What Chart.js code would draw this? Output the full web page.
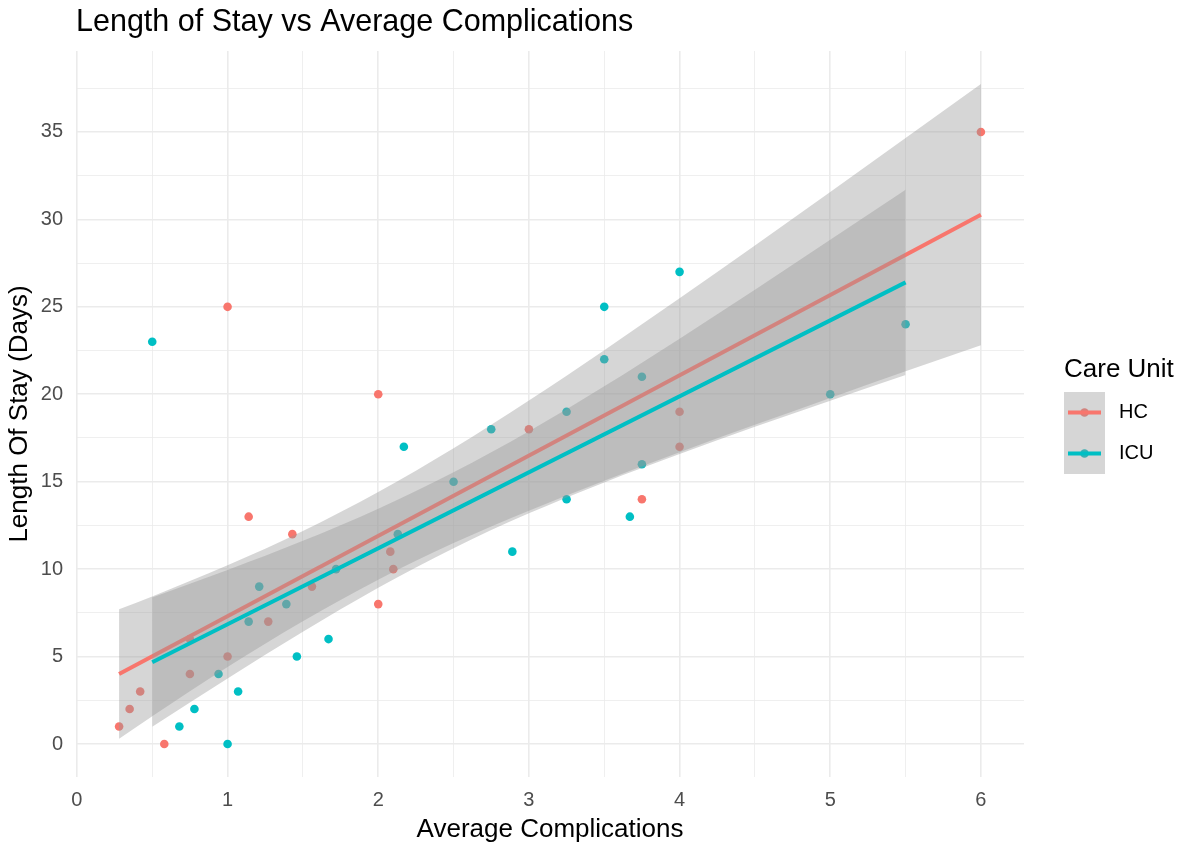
<!DOCTYPE html>
<html>
<head>
<meta charset="utf-8">
<script src="https://cdn.jsdelivr.net/npm/chart.js@4.4.1/dist/chart.umd.min.js"></script>
<style>
  html, body { margin: 0; padding: 0; background: #fff; }
  #wrap { width: 1183px; height: 845px; position: relative; }
</style>
</head>
<body>
<div id="wrap"><canvas id="myChart"></canvas></div>
<script>
const FONT = '"Liberation Sans", Arial, sans-serif';

const units = ['HC', 'ICU'];
const unitColors = ['#F8766D', '#00BFC4'];
const bandFill = 'rgba(153, 153, 153, 0.4)';

// observations
const hcX = [0.28, 0.35, 0.42, 0.58, 0.75, 0.75, 1, 1, 1.14, 1.27, 1.43, 1.56, 2, 2, 2.08, 2.1, 3, 3.75, 4, 4, 6];
const hcY = [1, 2, 3, 0, 4, 6, 5, 25, 13, 7, 12, 9, 8, 20, 11, 10, 18, 14, 17, 19, 35];
const icuX = [0.5, 0.68, 0.78, 0.94, 1, 1.07, 1.14, 1.21, 1.39, 1.46, 1.67, 1.72, 2.13, 2.17, 2.5, 2.75, 2.89, 3.25, 3.25, 3.5, 3.5, 3.67, 3.75, 3.75, 4, 5, 5.5];
const icuY = [23, 1, 2, 4, 0, 3, 7, 9, 8, 5, 6, 10, 12, 17, 15, 18, 11, 14, 19, 22, 25, 13, 16, 21, 27, 20, 24];

// fitted lines (end points)
const hcFitX = [0.28, 6];
const hcFitY = [4.0, 30.27];
const icuFitX = [0.5, 5.5];
const icuFitY = [4.68, 26.4];

// confidence bands
const hcBandX = [0.28, 0.5, 1, 1.5, 2, 2.5, 3, 3.5, 4, 4.5, 5, 5.5, 6];
const hcLow = [0.30, 1.58, 4.40, 7.02, 9.39, 11.49, 13.34, 15.06, 16.69, 18.25, 19.79, 21.31, 22.80];
const hcHigh = [7.70, 8.44, 10.22, 12.18, 14.41, 16.91, 19.64, 22.52, 25.49, 28.51, 31.57, 34.65, 37.74];
const icuBandX = [0.5, 1, 1.5, 2, 2.5, 3, 3.5, 4, 4.5, 5, 5.5];
const icuLow = [0.98, 3.75, 6.42, 8.94, 11.20, 13.19, 14.96, 16.58, 18.14, 19.63, 21.10];
const icuHigh = [8.38, 9.95, 11.62, 13.46, 15.54, 17.89, 20.46, 23.18, 25.98, 28.83, 31.70];

const xTicks = [0, 0.5, 1, 1.5, 2, 2.5, 3, 3.5, 4, 4.5, 5, 5.5, 6];
const yTicks = [0, 2.5, 5, 7.5, 10, 12.5, 15, 17.5, 20, 22.5, 25, 27.5, 30, 32.5, 35, 37.5];

const pts = (xs, ys) => xs.map((x, i) => ({ x: x, y: ys[i] }));

const pointSet = (label, xs, ys, color) => ({
    label: label,
    data: pts(xs, ys),
    backgroundColor: color,
    borderColor: 'rgba(0,0,0,0)',
    pointRadius: 4.3,
    pointBorderWidth: 0,
    pointHoverRadius: 4.3,
    order: 10
});

const edgeSet = (xs, ys, fill, order) => ({
    type: 'line',
    data: pts(xs, ys),
    borderColor: 'rgba(0,0,0,0)',
    borderWidth: 0,
    backgroundColor: bandFill,
    pointRadius: 0,
    pointHitRadius: 0,
    cubicInterpolationMode: 'monotone',
    fill: fill,
    order: order
});

const fitSet = (xs, ys, color, order) => ({
    type: 'line',
    data: pts(xs, ys),
    borderColor: color,
    borderWidth: 4,
    pointRadius: 0,
    pointHitRadius: 0,
    fill: false,
    order: order
});

const careUnitLegend = {
    id: 'careUnitLegend',
    afterDraw(chart) {
        const c = chart.ctx;
        const left = chart.chartArea.right + 40;
        const size = 41;
        c.save();
        c.textAlign = 'left';
        c.textBaseline = 'middle';
        c.fillStyle = '#000';
        c.font = '26px ' + FONT;
        c.fillText('Care Unit', left, 370);
        units.forEach((u, i) => {
            const top = 392 + i * size;
            const cy = top + size / 2;
            const cx = left + size / 2;
            c.fillStyle = unitColors[i];
            c.beginPath();
            c.arc(cx, cy, 4.3, 0, Math.PI * 2);
            c.fill();
            c.fillStyle = bandFill;
            c.fillRect(left, top, size, size);
            c.strokeStyle = unitColors[i];
            c.lineWidth = 4;
            c.beginPath();
            c.moveTo(left + 4, cy);
            c.lineTo(left + size - 4, cy);
            c.stroke();
            c.fillStyle = '#000';
            c.font = '20px ' + FONT;
            c.fillText(u, left + 55, cy);
        });
        c.restore();
    }
};

const ctx = document.getElementById('myChart').getContext('2d');

const myChart = new Chart(ctx, {
    type: 'scatter',
    data: {
        datasets: [
            pointSet('HC', hcX, hcY, unitColors[0]),
            pointSet('ICU', icuX, icuY, unitColors[1]),
            edgeSet(hcBandX, hcLow, false, 8),
            edgeSet(hcBandX, hcHigh, 2, 8),
            fitSet(hcFitX, hcFitY, unitColors[0], 7),
            edgeSet(icuBandX, icuLow, false, 6),
            edgeSet(icuBandX, icuHigh, 5, 6),
            fitSet(icuFitX, icuFitY, unitColors[1], 5)
        ]
    },
    options: {
        responsive: true,
        maintainAspectRatio: false,
        animation: false,
        devicePixelRatio: 1,
        layout: {
            padding: { left: 0, right: 159, top: 0, bottom: 0 }
        },
        plugins: {
            legend: { display: false },
            tooltip: { enabled: false },
            title: {
                display: true,
                text: 'Length of Stay vs Average Complications',
                align: 'start',
                fullSize: false,
                color: '#000',
                font: { family: FONT, size: 30.5, weight: 'normal' },
                padding: { top: 4, bottom: 10.4 }
            }
        },
        scales: {
            x: {
                type: 'linear',
                min: -0.006,
                max: 6.286,
                afterBuildTicks: axis => { axis.ticks = xTicks.map(v => ({ value: v })); },
                afterFit: axis => { axis.height = 68; },
                border: { display: false },
                grid: {
                    drawTicks: false,
                    color: '#ebebeb',
                    lineWidth: c => (Number.isInteger(c.tick.value) ? 1.6 : 0.8)
                },
                ticks: {
                    autoSkip: false,
                    maxRotation: 0,
                    padding: 11,
                    color: '#4d4d4d',
                    font: { family: FONT, size: 20 },
                    callback: v => (Number.isInteger(v) ? String(v) : '')
                },
                title: {
                    display: true,
                    text: 'Average Complications',
                    color: '#000',
                    font: { family: FONT, size: 26 },
                    padding: { top: 0, bottom: 0 }
                }
            },
            y: {
                type: 'linear',
                min: -1.887,
                max: 39.63,
                afterBuildTicks: axis => { axis.ticks = yTicks.map(v => ({ value: v })); },
                afterFit: axis => { axis.width = 76; },
                border: { display: false },
                grid: {
                    drawTicks: false,
                    color: '#ebebeb',
                    lineWidth: c => (c.tick.value % 5 === 0 ? 1.6 : 0.8)
                },
                ticks: {
                    autoSkip: false,
                    padding: 13,
                    color: '#4d4d4d',
                    font: { family: FONT, size: 20 },
                    callback: v => (v % 5 === 0 ? String(v) : '')
                },
                title: {
                    display: true,
                    text: 'Length Of Stay (Days)',
                    color: '#000',
                    font: { family: FONT, size: 26 },
                    padding: { top: 4, bottom: 0 }
                }
            }
        }
    },
    plugins: [careUnitLegend]
});
</script>
</body>
</html>
